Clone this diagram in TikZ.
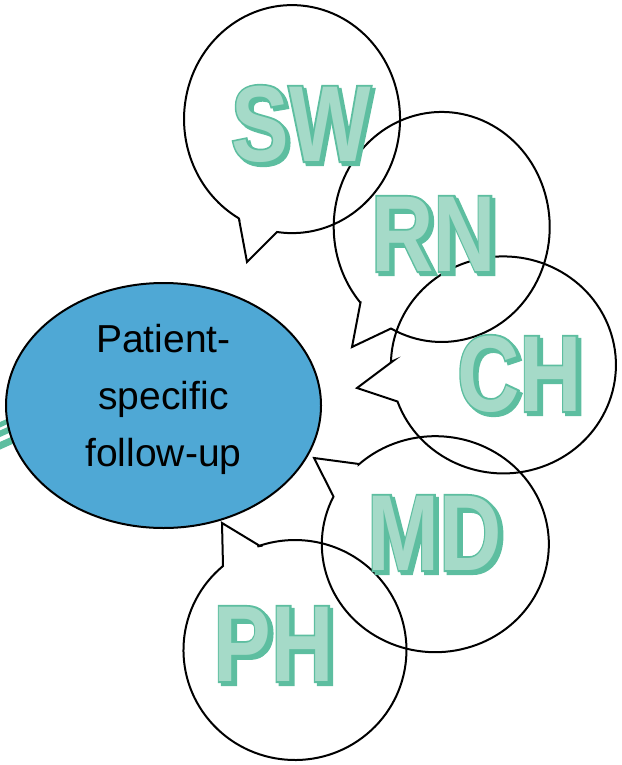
\documentclass[tikz,border=0pt]{standalone}
\usepackage{fontspec}
\setmainfont{Liberation Sans}
\newfontfamily\letterfill{Liberation Sans Bold}[FakeStretch=0.8]
\newfontfamily\letteredge{Liberation Sans Bold}[FakeStretch=0.8,FakeBold=3.5]
\usetikzlibrary{shapes.geometric}
\definecolor{grn}{RGB}{93,190,160}
\definecolor{grnlt}{RGB}{165,218,200}
\definecolor{blu}{RGB}{79,168,213}
\tikzset{
  bubble/.style={draw=black,line width=2pt,line join=miter},
  stripe/.style={draw=grn,line width=5pt},
  lshadow/.style={text=grn,font=\letteredge\fontsize{108}{108}\selectfont,inner sep=0pt,xshift=3pt,yshift=-3pt},
  ledge/.style={text=grn,font=\letteredge\fontsize{108}{108}\selectfont,inner sep=0pt},
  lfill/.style={text=grnlt,font=\letterfill\fontsize{108}{108}\selectfont,inner sep=0pt},
  mainell/.style={ellipse,draw=black,line width=2pt,fill=blu,minimum width=315pt,minimum height=245pt,inner sep=0pt},
  maintext/.style={align=center,font=\fontsize{39}{57}\selectfont,inner sep=0pt,text=black}
}
\newcommand\bubblelabel[3]{%
  \node[lshadow] (#1-s) at (#2) {#3};
  \node[ledge] (#1-e) at (#2) {#3};
  \node[lfill] (#1) at (#2) {#3};
}
\begin{document}
\begin{tikzpicture}[x=1pt,y=-1pt]
\useasboundingbox (0,0) rectangle (621,765);
% stripes behind the ellipse
\draw[stripe] (-5,427) -- (45,404.5);
\draw[stripe,line width=6pt] (-5,436) -- (45,413.5);
\draw[stripe,line width=7pt] (-5,448) -- (45,425.5);
% central ellipse
\node[mainell] (pf) at (163.5,405.5) {};
\node[maintext] (pft) at (163.5,399) {Patient-\\specific\\follow-up};
% speech bubbles
% SW
\draw[bubble] (292,119) ++(119.5:108 and 114) -- (247,262) -- (277,232)
  arc[start angle=98,end angle=-240.5,x radius=108,y radius=114] -- cycle;
% RN
\draw[bubble] (360.5,302.4) -- (352,347) -- (391,328.5)
  arc[start angle=118,end angle=-221,x radius=108,y radius=115] -- cycle;
% CH
\draw[bubble] (393,361) -- (357,388) -- (397.5,401.5)
  arc[start angle=160.3,end angle=-178.4,x radius=112.5,y radius=108.5] -- cycle;
% MD
\draw[bubble] (359,464) -- (314,458) -- (333.5,496.5)
  arc[start angle=-153.8,end angle=-492.3,x radius=113.5,y radius=108] -- cycle;
% PH
\draw[bubble] (260,546) -- (222,523) -- (223,566)
  arc[start angle=-130.2,end angle=-469.7,x radius=111.5,y radius=110] -- cycle;
% labels
\bubblelabel{sw}{301,124}{SW}
\bubblelabel{rn}{434,234}{RN}
\bubblelabel{ch}{520,374}{CH}
\bubblelabel{md}{435,533}{MD}
\bubblelabel{ph}{274,644}{PH}
\end{tikzpicture}
\end{document}
